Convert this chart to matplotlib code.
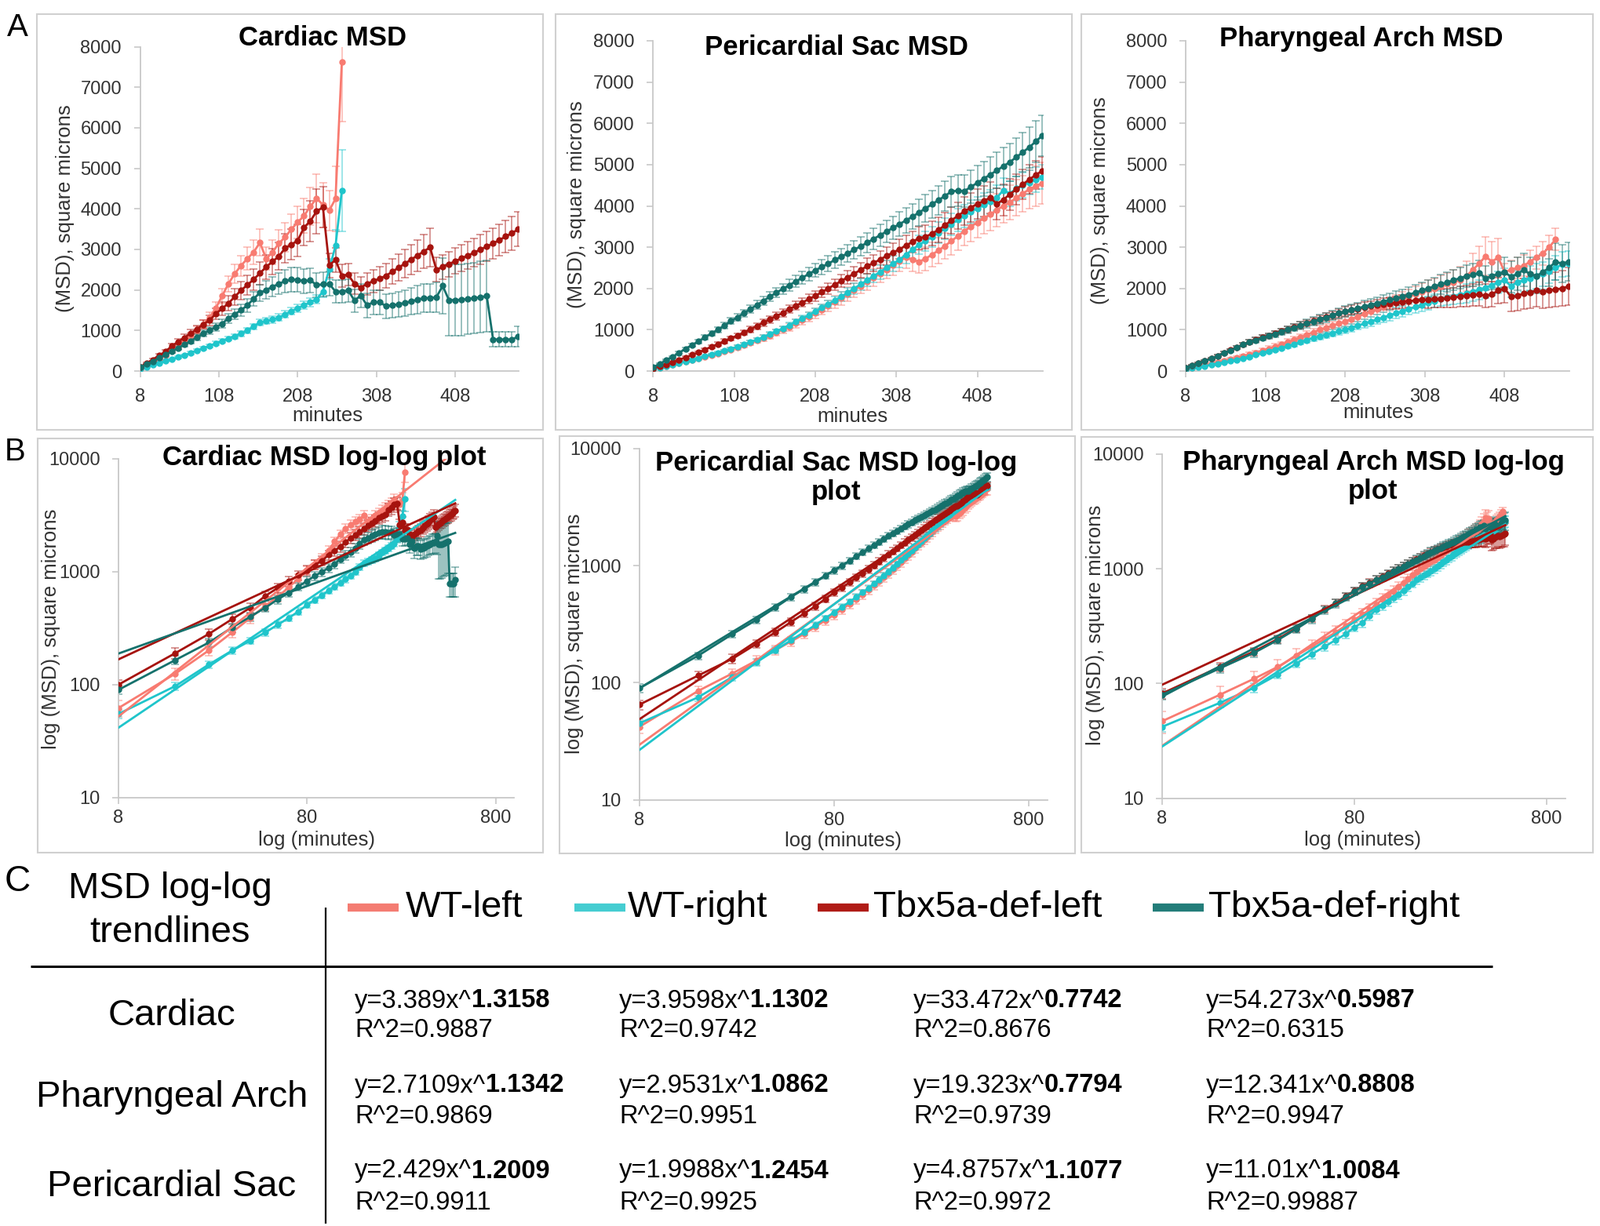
import numpy as np
import matplotlib
matplotlib.use('Agg')
import matplotlib.pyplot as plt
from matplotlib.patches import Rectangle
from matplotlib.ticker import NullLocator

plt.rcParams['font.family'] = ['Liberation Sans', 'DejaVu Sans']

W, H = 2040, 1563

# sampling times (minutes), every 8 min
times = np.arange(8, 489, 8)

names = ['WT-left', 'WT-right', 'Tbx5a-def-left', 'Tbx5a-def-right']
line_colors = ['#F87B71', '#1FC5CB', '#A6130E', '#15716C']
legend_colors = ['#F47C72', '#45CDD1', '#B01C17', '#237D79']

# ---- Cardiac MSD (square microns)
c_wtl = [62, 125, 200, 290, 390, 500, 600, 730, 870, 1010,
         1150, 1320, 1550, 1850, 2150, 2400, 2600, 2770, 2930, 3170,
         2770, 2930, 3150, 3300, 3500, 3670, 3830, 4060, 4260, 4100,
         3960, 4250, 7620]
c_wtl_err = [10, 15, 20, 30, 40, 50, 60, 70, 80, 100,
             110, 130, 150, 180, 200, 230, 250, 280, 300, 330,
             280, 300, 330, 350, 380, 400, 430, 460, 600, 550,
             500, 800, 1470]
c_wtr = [55, 97, 150, 200, 245, 290, 340, 390, 445, 510,
         565, 620, 680, 740, 800, 860, 920, 1000, 1100, 1200,
         1230, 1270, 1320, 1400, 1480, 1550, 1620, 1700, 1770, 1960,
         2510, 3090, 4450]
c_wtr_err = [5, 8, 10, 14, 17, 20, 23, 26, 30, 34,
             38, 42, 46, 50, 54, 58, 62, 66, 70, 75,
             78, 80, 84, 88, 92, 96, 100, 105, 110, 150,
             250, 400, 1000]
c_tl = [100, 190, 280, 380, 480, 610, 720, 820, 930, 1030,
        1150, 1250, 1410, 1540, 1670, 1830, 1990, 2120, 2260, 2410,
        2570, 2700, 2830, 3030, 3120, 3220, 3540, 3700, 3940, 4040,
        2610, 2740, 2350, 2380, 2150, 2060, 2150, 2220, 2280, 2350,
        2450, 2550, 2650, 2750, 2850, 2950, 3050, 2500, 2570, 2640,
        2710, 2780, 2850, 2920, 3000, 3070, 3150, 3230, 3320, 3400,
        3500]
c_tl_err = [10, 20, 30, 40, 50, 60, 70, 80, 90, 100,
            110, 120, 140, 160, 180, 200, 220, 240, 260, 280,
            300, 320, 340, 360, 380, 400, 450, 500, 550, 500,
            300, 300, 280, 280, 260, 260, 270, 280, 290, 300,
            310, 330, 350, 370, 390, 420, 480, 300, 300, 310,
            320, 330, 340, 350, 360, 370, 380, 390, 400, 420,
            430]
c_tr = [90, 165, 235, 320, 400, 480, 570, 650, 740, 830,
        920, 1000, 1080, 1170, 1300, 1400, 1500, 1620, 1780, 1930,
        2000, 2080, 2150, 2220, 2260, 2250, 2220, 2240, 2120, 2140,
        2150, 1960, 1960, 1990, 1740, 1860, 1620, 1700, 1700, 1600,
        1620, 1650, 1680, 1720, 1760, 1800, 1800, 1820, 2100, 1750,
        1750, 1760, 1780, 1800, 1820, 1850, 780, 780, 780, 780,
        850]
c_tr_err = [8, 14, 20, 27, 34, 41, 48, 55, 62, 70,
            78, 86, 95, 105, 115, 130, 145, 160, 180, 200,
            220, 240, 260, 280, 300, 300, 300, 300, 300, 300,
            300, 280, 280, 280, 280, 290, 300, 300, 300, 300,
            300, 310, 320, 330, 340, 350, 350, 360, 680, 880,
            880, 880, 880, 880, 880, 880, 180, 180, 180, 180,
            250]

# ---- Pericardial sac MSD
p_wtl = [42, 85, 120, 155, 190, 225, 260, 300, 340, 380,
         425, 470, 520, 570, 620, 680, 740, 800, 860, 930,
         1000, 1070, 1150, 1230, 1310, 1400, 1490, 1580, 1670, 1760,
         1860, 1960, 2060, 2160, 2260, 2360, 2460, 2560, 2660, 2760,
         2700, 2650, 2720, 2820, 2920, 3030, 3150, 3270, 3390, 3500,
         3600, 3700, 3800, 3900, 4000, 4080, 4200, 4300, 4400, 4480,
         4550]
p_wtl_err = [5, 8, 10, 14, 17, 20, 23, 27, 30, 34,
             38, 42, 46, 50, 55, 60, 65, 70, 76, 82,
             88, 94, 100, 108, 115, 122, 130, 138, 146, 155,
             165, 175, 185, 195, 205, 215, 225, 240, 255, 270,
             280, 280, 290, 300, 310, 320, 330, 340, 350, 360,
             370, 380, 390, 400, 410, 420, 430, 440, 460, 480,
             500]
p_wtr = [45, 75, 112, 150, 190, 230, 270, 310, 355, 400,
         445, 490, 540, 590, 640, 700, 760, 820, 890, 960,
         1030, 1110, 1190, 1270, 1350, 1440, 1530, 1620, 1710, 1800,
         1900, 2000, 2100, 2200, 2300, 2400, 2500, 2600, 2700, 2820,
         2940, 3060, 3150, 3250, 3350, 3450, 3560, 3660, 3760, 3860,
         3940, 4020, 4100, 4200, 4380, 4300, 4420, 4500, 4570, 4640,
         4700]
p_wtr_err = [4, 6, 8, 10, 12, 14, 16, 18, 20, 22,
             25, 28, 31, 34, 37, 40, 44, 48, 52, 56,
             60, 65, 70, 75, 80, 85, 90, 95, 100, 110,
             120, 130, 140, 150, 160, 170, 180, 190, 200, 210,
             220, 230, 240, 250, 255, 260, 265, 270, 275, 280,
             285, 290, 295, 300, 300, 300, 300, 300, 300, 300,
             300]
p_tl = [65, 115, 160, 215, 270, 330, 390, 450, 520, 590,
        650, 720, 790, 860, 930, 1010, 1090, 1170, 1250, 1330,
        1410, 1500, 1580, 1660, 1740, 1820, 1910, 2000, 2090, 2180,
        2270, 2360, 2450, 2540, 2620, 2700, 2790, 2870, 2950, 3040,
        3130, 3220, 3250, 3330, 3420, 3530, 3650, 3760, 3870, 3960,
        4050, 4120, 4200, 4050, 4150, 4280, 4400, 4520, 4640, 4750,
        4850]
p_tl_err = [6, 10, 14, 18, 22, 26, 30, 34, 38, 42,
            46, 50, 55, 60, 65, 70, 75, 80, 85, 90,
            95, 100, 105, 110, 115, 120, 125, 130, 140, 150,
            160, 170, 180, 190, 200, 210, 220, 230, 240, 250,
            260, 270, 280, 290, 300, 310, 320, 330, 340, 350,
            360, 370, 380, 380, 380, 380, 370, 360, 350, 340,
            330]
p_tr = [90, 170, 260, 345, 440, 540, 630, 720, 820, 910,
        1000, 1100, 1210, 1300, 1400, 1500, 1600, 1700, 1800, 1900,
        1990, 2080, 2170, 2260, 2350, 2440, 2520, 2600, 2690, 2770,
        2850, 2940, 3020, 3110, 3200, 3290, 3380, 3470, 3560, 3650,
        3740, 3840, 3940, 4040, 4140, 4240, 4350, 4370, 4360, 4460,
        4560, 4660, 4760, 4860, 4960, 5060, 5180, 5300, 5420, 5560,
        5700]
p_tr_err = [8, 12, 18, 24, 30, 36, 42, 48, 54, 60,
            66, 72, 78, 84, 90, 96, 102, 108, 114, 120,
            128, 136, 144, 152, 160, 168, 176, 184, 192, 200,
            210, 220, 230, 240, 250, 260, 270, 280, 290, 300,
            310, 320, 330, 340, 350, 360, 370, 380, 390, 400,
            410, 420, 430, 440, 450, 460, 470, 480, 490, 500,
            500]

# ---- Pharyngeal arch MSD
ph_wtl = [47, 80, 110, 140, 175, 210, 245, 280, 320, 360,
          400, 440, 490, 540, 590, 640, 700, 760, 820, 880,
          940, 1000, 1050, 1100, 1150, 1200, 1260, 1320, 1380, 1440,
          1500, 1560, 1620, 1680, 1740, 1800, 1860, 1920, 1980, 2000,
          2050, 2100, 2150, 2200, 2300, 2450, 2600, 2780, 2650, 2750,
          2400, 2450, 2500, 2550, 2650, 2750, 2850, 3000, 3190]
ph_wtl_err = [10, 14, 18, 22, 26, 30, 34, 38, 42, 46,
              50, 54, 58, 62, 66, 70, 74, 78, 82, 86,
              90, 94, 98, 102, 106, 110, 115, 120, 125, 130,
              135, 140, 150, 160, 170, 180, 190, 200, 220, 240,
              260, 280, 300, 330, 360, 400, 430, 470, 480, 470,
              200, 220, 250, 260, 270, 280, 290, 280, 260]
ph_wtr = [42, 68, 92, 120, 150, 180, 210, 240, 270, 310,
          340, 390, 440, 480, 520, 560, 600, 650, 700, 750,
          800, 840, 880, 920, 960, 1000, 1050, 1100, 1150, 1200,
          1250, 1300, 1350, 1400, 1450, 1500, 1550, 1600, 1650, 1700,
          1750, 1780, 1810, 1850, 1880, 1920, 1970, 2020, 2080, 2150,
          2200, 2060, 2150, 2200, 2250, 2300, 2350, 2420, 2500, 2580,
          2600]
ph_wtr_err = [4, 6, 8, 10, 12, 15, 18, 21, 24, 27,
              30, 34, 38, 42, 46, 50, 54, 58, 62, 66,
              70, 74, 78, 82, 86, 90, 95, 100, 105, 110,
              115, 120, 125, 130, 135, 140, 145, 150, 160, 170,
              180, 190, 200, 210, 220, 230, 240, 250, 260, 270,
              280, 280, 290, 290, 300, 300, 300, 300, 300, 300,
              300]
ph_tl = [82, 140, 190, 245, 305, 370, 445, 505, 575, 645,
         705, 760, 810, 860, 910, 960, 1010, 1060, 1110, 1160,
         1210, 1260, 1310, 1350, 1400, 1440, 1480, 1510, 1540, 1570,
         1600, 1620, 1640, 1660, 1680, 1700, 1710, 1720, 1720, 1740,
         1750, 1760, 1780, 1800, 1820, 1840, 1860, 1820, 1860, 1950,
         2000, 1800, 1820, 1880, 1900, 1950, 1920, 1950, 1980, 2000,
         2050]
ph_tl_err = [8, 12, 16, 20, 24, 28, 32, 36, 40, 44,
             48, 52, 56, 60, 64, 68, 72, 76, 80, 84,
             88, 92, 96, 100, 105, 110, 115, 120, 125, 130,
             135, 140, 145, 150, 160, 170, 180, 190, 200, 210,
             220, 230, 240, 250, 260, 270, 280, 290, 300, 320,
             340, 350, 360, 370, 380, 390, 400, 410, 420, 430,
             450]
ph_tr = [80, 136, 185, 240, 300, 365, 440, 500, 570, 640,
         700, 750, 800, 850, 900, 950, 1000, 1050, 1100, 1150,
         1200, 1250, 1300, 1350, 1400, 1440, 1480, 1520, 1560, 1600,
         1640, 1680, 1720, 1760, 1800, 1850, 1900, 1950, 2000, 2050,
         2100, 2150, 2200, 2250, 2300, 2330, 2380, 2250, 2300, 2350,
         2400, 2280, 2350, 2450, 2350, 2300, 2400, 2500, 2650, 2600,
         2650]
ph_tr_err = [8, 12, 16, 20, 25, 30, 35, 40, 45, 50,
             55, 60, 65, 70, 75, 80, 85, 90, 95, 100,
             105, 110, 115, 120, 125, 130, 135, 140, 145, 150,
             155, 160, 165, 170, 175, 180, 190, 200, 210, 220,
             230, 240, 250, 260, 270, 280, 290, 300, 320, 340,
             360, 380, 400, 400, 410, 420, 430, 440, 450, 460,
             470]

# ---- power-law trendlines y = a * x^b (table C)
card_a = ['3.389', '3.9598', '33.472', '54.273']
card_b = ['1.3158', '1.1302', '0.7742', '0.5987']
card_r2 = ['0.9887', '0.9742', '0.8676', '0.6315']
phar_a = ['2.7109', '2.9531', '19.323', '12.341']
phar_b = ['1.1342', '1.0862', '0.7794', '0.8808']
phar_r2 = ['0.9869', '0.9951', '0.9739', '0.9947']
peri_a = ['2.429', '1.9988', '4.8757', '11.01']
peri_b = ['1.2009', '1.2454', '1.1077', '1.0084']
peri_r2 = ['0.9911', '0.9925', '0.9972', '0.99887']

cardiac = [(c_wtl, c_wtl_err), (c_wtr, c_wtr_err), (c_tl, c_tl_err), (c_tr, c_tr_err)]
pericard = [(p_wtl, p_wtl_err), (p_wtr, p_wtr_err), (p_tl, p_tl_err), (p_tr, p_tr_err)]
pharyn = [(ph_wtl, ph_wtl_err), (ph_wtr, ph_wtr_err), (ph_tl, ph_tl_err), (ph_tr, ph_tr_err)]

fig = plt.figure(figsize=(W / 100, H / 100), dpi=100)
fig.patch.set_facecolor('white')

GRID = '#C8C8C8'
TXT = '#333333'


def px_rect(l, t, r, b):
    return [l / W, 1 - b / H, (r - l) / W, (b - t) / H]


def style(ax, xpad):
    for s in ['top', 'right']:
        ax.spines[s].set_visible(False)
    for s in ['left', 'bottom']:
        ax.spines[s].set_color(GRID)
        ax.spines[s].set_linewidth(1.3)
    ax.set_facecolor('none')
    ax.tick_params(which='both', direction='out', length=6, width=1.2,
                   color=GRID, labelsize=17, labelcolor=TXT)
    ax.tick_params(axis='x', pad=xpad)
    ax.tick_params(axis='y', pad=11)


def plot_series(ax, series):
    for (vals, errs), c in zip(series, line_colors):
        tt = times[:len(vals)]
        ax.errorbar(tt, vals, yerr=errs, fmt='none', ecolor=c, elinewidth=1.1,
                    capsize=3.5, capthick=1.1, alpha=0.55, zorder=2)
        ax.plot(tt, vals, '-o', color=c, lw=2, ms=5, zorder=3)


def linear_panel(rect, series):
    ax = fig.add_axes(px_rect(*rect))
    style(ax, 10)
    plot_series(ax, series)
    ax.set_xlim(8, 489)
    ax.set_ylim(0, 8000)
    ax.set_xticks([8, 108, 208, 308, 408])
    ax.set_yticks(range(0, 8001, 1000))
    return ax


def loglog_panel(rect, series, coef_a, coef_b):
    ax = fig.add_axes(px_rect(*rect))
    ax.set_xscale('log')
    ax.set_yscale('log')
    style(ax, 5)
    plot_series(ax, series)
    for a, b, c in zip(coef_a, coef_b, line_colors):
        ax.plot(times, float(a) * times ** float(b), color=c, lw=2, zorder=4)
    ax.set_xlim(8, 1000)
    ax.set_ylim(10, 10000)
    ax.set_xticks([8, 80, 800])
    ax.set_xticklabels(['8', '80', '800'])
    ax.set_yticks([10, 100, 1000, 10000])
    ax.set_yticklabels(['10', '100', '1000', '10000'])
    ax.xaxis.set_minor_locator(NullLocator())
    ax.yaxis.set_minor_locator(NullLocator())
    return ax


# row A: linear MSD
linear_panel((178.6, 59.6, 661.5, 473), cardiac)
linear_panel((832.3, 52, 1329.2, 473), pericard)
linear_panel((1511, 52, 1999.7, 473), pharyn)

# row B: log-log with trendlines
loglog_panel((151, 585, 655, 1016.7), cardiac, card_a, card_b)
loglog_panel((815, 572, 1335, 1019.5), pericard, peri_a, peri_b)
loglog_panel((1481, 579, 1994.7, 1017.7), pharyn, phar_a, phar_b)

# overlay in pixel coordinates for frames, titles, labels and the table
cax = fig.add_axes([0, 0, 1, 1])
cax.set_xlim(0, W)
cax.set_ylim(H, 0)
cax.axis('off')
cax.patch.set_visible(False)

frames = [(47, 17.5, 692, 548), (708, 17.5, 1366, 548), (1378.5, 17.5, 2030, 548),
          (48, 559, 692, 1087), (713, 556, 1370, 1088), (1378.5, 557, 2030, 1087)]
for l, t, r, b in frames:
    cax.add_patch(Rectangle((l, t), r - l, b - t, fill=False, ec='#D0D0D0', lw=1.5))

titles = [('Cardiac MSD', 411, 49), ('Pericardial Sac MSD', 1066, 61),
          ('Pharyngeal Arch MSD', 1735, 49), ('Cardiac MSD log-log plot', 413, 583),
          ('Pericardial Sac MSD log-log\nplot', 1066, 609),
          ('Pharyngeal Arch MSD log-log\nplot', 1750, 608)]
for s, x, y in titles:
    cax.text(x, y, s, ha='center', va='center', fontsize=25, fontweight='bold',
             linespacing=1.12, color='black')

for x, y in [(82.6, 266), (735, 261), (1402, 256)]:
    cax.text(x, y, '(MSD), square microns', rotation=90, ha='center', va='center',
             fontsize=18.5, color=TXT)
for x, y in [(417, 530), (1086, 531), (1756, 526)]:
    cax.text(x, y, 'minutes', ha='center', va='center', fontsize=18.5, color=TXT)
for x, y in [(64.7, 802), (732.5, 808), (1396.5, 797)]:
    cax.text(x, y, 'log (MSD), square microns', rotation=90, ha='center', va='center',
             fontsize=18.5, color=TXT)
for x, y in [(404, 1071), (1075, 1072), (1737, 1071)]:
    cax.text(x, y, 'log (minutes)', ha='center', va='center', fontsize=18.5, color=TXT)

# panel letters
cax.text(22, 35, 'A', ha='center', va='center', fontsize=29)
cax.text(19, 576, 'B', ha='center', va='center', fontsize=29)
cax.text(22, 1124, 'C', ha='center', va='center', fontsize=33)

# ---- section C: trendline table
cax.text(217, 1133, 'MSD log-log', ha='center', va='center', fontsize=34)
cax.text(217, 1189, 'trendlines', ha='center', va='center', fontsize=34)
cax.plot([39, 1902], [1232, 1232], color='black', lw=2.2, solid_capstyle='butt')
cax.plot([415, 415], [1157, 1560], color='black', lw=1.6, solid_capstyle='butt')

seg_x = [(443, 508), (732, 797), (1042, 1107), (1469, 1534)]
txt_x = [517, 800, 1113, 1540]
for (x0, x1), tx, name, c in zip(seg_x, txt_x, names, legend_colors):
    cax.plot([x0, x1], [1157, 1157], color=c, lw=7.5, solid_capstyle='butt')
    cax.text(tx, 1157, name, ha='left', va='center', fontsize=34)

row_names = ['Cardiac', 'Pharyngeal Arch', 'Pericardial Sac']
row_y = [1295, 1399, 1513]
for s, y in zip(row_names, row_y):
    cax.text(219, y, s, ha='center', va='center', fontsize=34)

col_x = [452, 789, 1164, 1537]
eq_y = [1276, 1384, 1493]
r2_y = [1313, 1424, 1533]
table = [(card_a, card_b, card_r2), (phar_a, phar_b, phar_r2), (peri_a, peri_b, peri_r2)]
for (A, B, R), ey, ry in zip(table, eq_y, r2_y):
    for a, b, r, x in zip(A, B, R, col_x):
        t1 = cax.text(x, ey, 'y=' + a + 'x^', ha='left', va='center', fontsize=23.5)
        cax.annotate(b, xy=(1, 0), xycoords=t1, ha='left', va='bottom',
                     fontsize=23.5, fontweight='bold')
        cax.text(x, ry, 'R^2=' + r, ha='left', va='center', fontsize=23.5)

fig.savefig('out.png', dpi=100, facecolor='white')
